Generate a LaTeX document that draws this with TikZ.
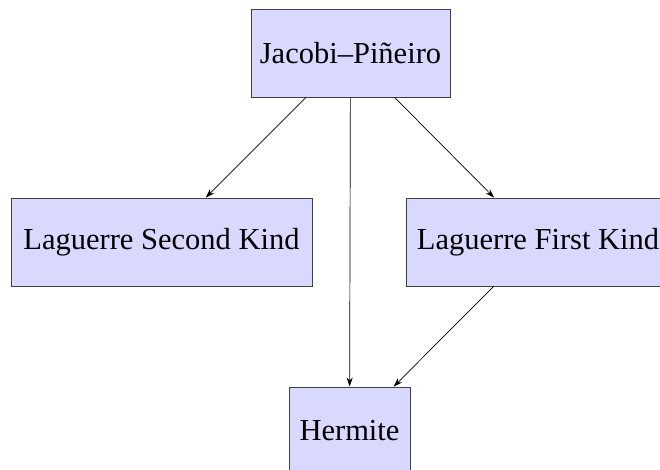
\documentclass[tikz,border=0pt]{standalone}
\usepackage{fontspec}
\setmainfont{Liberation Serif}
\usetikzlibrary{arrows.meta}
\begin{document}
\begin{tikzpicture}[x=1pt,y=-1pt,
  box/.style={draw=black!75, fill=blue!15, line width=0.8pt, minimum height=88pt, inner sep=0pt, font=\fontsize{30.5}{34}\selectfont},
  arr/.style={-{Stealth[length=9pt,width=6pt]}, line width=0.7pt}]
\useasboundingbox (0,0) rectangle (660,470);
\clip (0,0) rectangle (660,470);
\node[box, minimum width=199pt] (jp) at (350.5,53) {Jacobi–Piñeiro};
\node[box, minimum width=301pt] (ls) at (161.5,242) {Laguerre Second Kind};
\node[box, minimum width=264pt] (lf) at (538,242) {Laguerre First Kind};
\node[box, minimum width=121pt] (h) at (349.5,431) {Hermite};
\draw[arr] (jp) -- (ls);
\draw[arr] (jp) -- (lf);
\draw[arr] (jp) -- (h);
\draw[arr] (lf) -- (h);
\end{tikzpicture}
\end{document}
